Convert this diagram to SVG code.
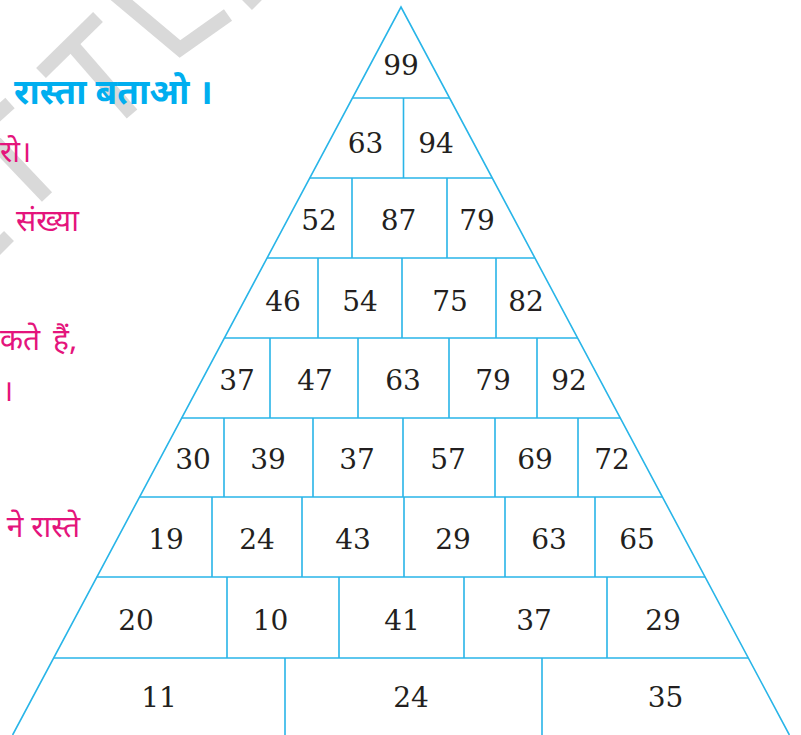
<svg xmlns="http://www.w3.org/2000/svg" width="801" height="735" viewBox="0 0 801 735">
<style>
.wm{fill:none;stroke:#d9d9d9;stroke-width:14;stroke-linecap:butt;stroke-linejoin:miter}
.ln{stroke:#29b5e8;stroke-width:1.6;fill:none}
.n{font-family:"DejaVu Serif","Liberation Serif",serif;font-size:28px;fill:#231f20;text-anchor:middle}
.hi{font-family:"Noto Sans Devanagari","Lohit Devanagari","Noto Sans",sans-serif;font-size:30px;fill:#e4147c}
.ti{font-family:"Noto Sans Devanagari","Lohit Devanagari","Noto Sans",sans-serif;font-size:35px;font-weight:bold;fill:#00aeef}
</style>
<rect width="801" height="735" fill="#ffffff"/>
<g id="watermark">
<line class="wm" x1="98" y1="17" x2="41" y2="73"/>
<line class="wm" x1="72" y1="45" x2="132" y2="114"/>
<path class="wm" d="M112,-8 L180,49 L228,15"/>
<line class="wm" x1="247" y1="5" x2="265" y2="-13"/>
<line class="wm" x1="-20" y1="130" x2="10" y2="103"/>
<line class="wm" x1="-10" y1="137" x2="47" y2="197"/>
<line class="wm" x1="-20" y1="265" x2="9" y2="236"/>
</g>
<g id="side-text">
<text class="ti" x="14" y="104">रास्ता बताओ ।</text>
<text class="hi" x="0" y="162">रो।</text>
<text class="hi" x="16" y="231">संख्या</text>
<text class="hi" x="0" y="350">कते</text>
<text class="hi" x="53" y="350">हैं,</text>
<text class="hi" x="2" y="401">।</text>
<text class="hi" x="80" y="537" text-anchor="end">ने रास्ते</text>
</g>
<g id="connectors">
<path class="ln" d="M12.6,735 L401,7 L789.4,735"/>
<line class="ln" x1="352.5" y1="98" x2="449.5" y2="98"/>
<line class="ln" x1="309.8" y1="178" x2="492.2" y2="178"/>
<line class="ln" x1="267.1" y1="258" x2="534.9" y2="258"/>
<line class="ln" x1="224.4" y1="338" x2="577.6" y2="338"/>
<line class="ln" x1="181.7" y1="418" x2="620.3" y2="418"/>
<line class="ln" x1="139.6" y1="497" x2="662.4" y2="497"/>
<line class="ln" x1="96.9" y1="577" x2="705.1" y2="577"/>
<line class="ln" x1="53.7" y1="658" x2="748.3" y2="658"/>
<path class="ln" d="M403.5,98V178 M352,178V258 M447,178V258 M318,258V338 M402,258V338 M496,258V338 M270,338V418 M358,338V418 M449,338V418 M537,338V418 M224,418V497 M313,418V497 M403,418V497 M495,418V497 M578,418V497 M212,497V577 M302,497V577 M404,497V577 M505,497V577 M595,497V577 M227,577V658 M339,577V658 M464,577V658 M607,577V658 M285,658V735 M542,658V735"/>
</g>
<g id="r1"><text class="n" x="401" y="75">99</text></g>
<g id="r2"><text class="n" x="365.5" y="153">63</text><text class="n" x="436" y="153">94</text></g>
<g id="r3"><text class="n" x="319" y="230">52</text><text class="n" x="398.5" y="230">87</text><text class="n" x="477" y="230">79</text></g>
<g id="r4"><text class="n" x="283" y="311">46</text><text class="n" x="360" y="311">54</text><text class="n" x="450" y="311">75</text><text class="n" x="526" y="311">82</text></g>
<g id="r5"><text class="n" x="237" y="390">37</text><text class="n" x="315" y="390">47</text><text class="n" x="403" y="390">63</text><text class="n" x="493" y="390">79</text><text class="n" x="569" y="390">92</text></g>
<g id="r6"><text class="n" x="193" y="469">30</text><text class="n" x="268" y="469">39</text><text class="n" x="357" y="469">37</text><text class="n" x="448" y="469">57</text><text class="n" x="535" y="469">69</text><text class="n" x="612" y="469">72</text></g>
<g id="r7"><text class="n" x="166" y="549">19</text><text class="n" x="257" y="549">24</text><text class="n" x="353" y="549">43</text><text class="n" x="453" y="549">29</text><text class="n" x="549" y="549">63</text><text class="n" x="637" y="549">65</text></g>
<g id="r8"><text class="n" x="136" y="630">20</text><text class="n" x="270.5" y="630">10</text><text class="n" x="402" y="630">41</text><text class="n" x="534" y="630">37</text><text class="n" x="663" y="630">29</text></g>
<g id="r9"><text class="n" x="159" y="707">11</text><text class="n" x="411" y="707">24</text><text class="n" x="665.5" y="707">35</text></g>
</svg>
